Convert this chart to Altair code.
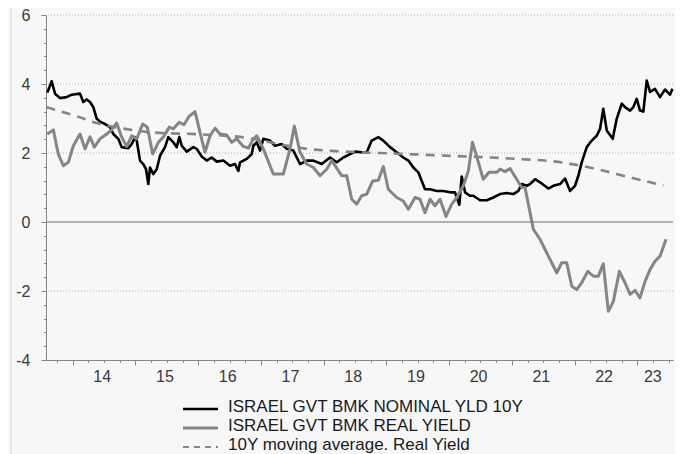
import altair as alt
import numpy as np
import pandas as pd

# ---- data (fractional years, percent) ----
nom_t = [2013.595, 2013.665, 2013.718, 2013.798, 2013.904, 2013.984, 2014.116, 2014.169, 2014.223, 2014.276,
         2014.328, 2014.383, 2014.435, 2014.515, 2014.595, 2014.647, 2014.727, 2014.781, 2014.886, 2014.941,
         2014.993, 2015.020, 2015.073, 2015.125, 2015.168, 2015.205, 2015.232, 2015.285, 2015.339, 2015.392,
         2015.471, 2015.524, 2015.604, 2015.658, 2015.699, 2015.738, 2015.817, 2015.923, 2015.977, 2016.056,
         2016.136, 2016.216, 2016.296, 2016.401, 2016.508, 2016.587, 2016.640, 2016.667, 2016.774, 2016.854,
         2016.879, 2016.933, 2016.986, 2017.038, 2017.145, 2017.225, 2017.332, 2017.411, 2017.517, 2017.623,
         2017.730, 2017.836, 2017.969, 2018.102, 2018.209, 2018.314, 2018.421, 2018.500, 2018.607, 2018.687,
         2018.766, 2018.872, 2018.951, 2019.058, 2019.165, 2019.270, 2019.350, 2019.430, 2019.509, 2019.564,
         2019.616, 2019.696, 2019.803, 2019.908, 2020.015, 2020.094, 2020.163, 2020.201, 2020.254, 2020.333,
         2020.386, 2020.493, 2020.600, 2020.705, 2020.812, 2020.919, 2021.024, 2021.104, 2021.158, 2021.237,
         2021.290, 2021.370, 2021.449, 2021.582, 2021.661, 2021.768, 2021.848, 2021.928, 2022.007, 2022.060,
         2022.114, 2022.194, 2022.274, 2022.353, 2022.406, 2022.458, 2022.513, 2022.608, 2022.672, 2022.752,
         2022.804, 2022.884, 2022.937, 2022.991, 2023.043, 2023.096, 2023.150, 2023.203, 2023.282, 2023.362,
         2023.442, 2023.521, 2023.560]
nom_v = [3.75, 4.08, 3.72, 3.59, 3.62, 3.69, 3.72, 3.48, 3.55, 3.48,
         3.33, 2.99, 2.91, 2.84, 2.75, 2.55, 2.41, 2.17, 2.14, 2.26,
         2.46, 2.36, 1.78, 1.68, 1.53, 1.10, 1.58, 1.39, 1.53, 1.92,
         2.17, 2.46, 2.31, 2.17, 2.46, 2.21, 2.04, 2.17, 2.12, 1.90,
         1.78, 1.87, 1.75, 1.78, 1.63, 1.68, 1.48, 1.73, 1.83, 1.97,
         2.21, 2.31, 2.07, 2.41, 2.36, 2.21, 2.26, 2.12, 2.07, 1.68,
         1.78, 1.78, 1.68, 1.87, 1.73, 1.87, 1.97, 2.04, 2.02, 2.02,
         2.36, 2.46, 2.36, 2.17, 2.02, 1.87, 1.78, 1.58, 1.44, 1.19,
         0.95, 0.95, 0.90, 0.90, 0.86, 0.86, 0.50, 1.32, 0.86, 0.76,
         0.76, 0.63, 0.63, 0.71, 0.81, 0.84, 0.81, 0.90, 1.10, 1.05,
         1.10, 1.24, 1.15, 0.97, 1.05, 1.10, 1.26, 0.90, 1.05, 1.34,
         1.73, 2.17, 2.36, 2.50, 2.70, 3.28, 2.65, 2.41, 2.99, 3.43,
         3.33, 3.23, 3.33, 3.57, 3.23, 3.20, 4.10, 3.77, 3.86, 3.62,
         3.84, 3.69, 3.86]

real_t = [2013.595, 2013.691, 2013.770, 2013.850, 2013.930, 2014.010, 2014.116, 2014.196, 2014.276, 2014.344,
          2014.435, 2014.542, 2014.622, 2014.701, 2014.781, 2014.861, 2014.941, 2015.020, 2015.116, 2015.189,
          2015.275, 2015.365, 2015.444, 2015.540, 2015.604, 2015.699, 2015.774, 2015.859, 2015.950, 2016.029,
          2016.109, 2016.189, 2016.269, 2016.348, 2016.455, 2016.535, 2016.614, 2016.720, 2016.799, 2016.879,
          2016.933, 2017.038, 2017.198, 2017.357, 2017.464, 2017.533, 2017.623, 2017.730, 2017.836, 2017.942,
          2018.049, 2018.129, 2018.288, 2018.368, 2018.448, 2018.527, 2018.607, 2018.687, 2018.782, 2018.872,
          2018.951, 2019.031, 2019.165, 2019.270, 2019.350, 2019.457, 2019.536, 2019.616, 2019.696, 2019.775,
          2019.855, 2019.951, 2020.042, 2020.122, 2020.227, 2020.306, 2020.373, 2020.545, 2020.636, 2020.759,
          2020.812, 2020.892, 2020.971, 2021.158, 2021.210, 2021.343, 2021.449, 2021.582, 2021.716, 2021.795,
          2021.875, 2021.955, 2022.034, 2022.114, 2022.210, 2022.299, 2022.379, 2022.458, 2022.538, 2022.618,
          2022.714, 2022.804, 2022.884, 2022.964, 2023.043, 2023.123, 2023.203, 2023.282, 2023.362, 2023.458]
real_v = [2.55, 2.67, 1.97, 1.63, 1.73, 2.21, 2.55, 2.12, 2.47, 2.17,
          2.41, 2.55, 2.67, 2.87, 2.46, 2.19, 2.50, 2.41, 2.84, 2.75,
          1.97, 2.31, 2.46, 2.75, 2.70, 2.89, 2.82, 3.07, 3.20, 2.60,
          2.02, 2.50, 2.72, 2.55, 2.52, 2.31, 2.41, 2.19, 2.14, 2.41,
          2.50, 2.12, 1.39, 1.39, 2.12, 2.78, 2.02, 1.68, 1.58, 1.34,
          1.53, 1.78, 1.34, 1.34, 0.66, 0.52, 0.76, 0.81, 1.19, 1.21,
          1.61, 0.95, 0.71, 0.61, 0.37, 0.71, 0.66, 0.27, 0.66, 0.47,
          0.66, 0.16, 0.52, 0.71, 1.05, 1.48, 2.31, 1.24, 1.44, 1.44,
          1.53, 1.46, 1.55, 1.00, 1.00, -0.21, -0.50, -0.99, -1.47, -1.18,
          -1.18, -1.86, -1.96, -1.76, -1.43, -1.57, -1.57, -1.21, -2.59, -2.30,
          -1.43, -1.76, -2.10, -1.98, -2.20, -1.72, -1.38, -1.14, -0.99, -0.50]

ma_t = [2013.580, 2014.037, 2014.435, 2014.834, 2015.232, 2016.029, 2016.779, 2017.305, 2017.735,
        2018.261, 2019.170, 2020.127, 2020.971, 2021.821, 2022.363, 2022.889, 2023.416]
ma_v = [3.33, 3.08, 2.84, 2.70, 2.60, 2.54, 2.44, 2.25, 2.12,
        2.05, 1.98, 1.91, 1.84, 1.72, 1.53, 1.29, 1.06]

series_names = ["ISRAEL GVT BMK NOMINAL YLD 10Y",
                "ISRAEL GVT BMK REAL YIELD",
                "10Y moving average. Real Yield"]
grid_levels = [6, 4, 2, -2]
zero_level = [0]

# ---- layout ----
W, H = 627, 345
FONT = "Liberation Sans"
BG = "#f7f7f7"
GRAY = "#858585"

nom_df = pd.DataFrame({"t": nom_t, "v": nom_v})
real_df = pd.DataFrame({"t": real_t, "v": real_v})
ma_df = pd.DataFrame({"t": ma_t, "v": ma_v})
grid_df = pd.DataFrame({"v": grid_levels})
zero_df = pd.DataFrame({"v": zero_level})

x_scale = alt.Scale(domain=[2013.574, 2023.569], nice=False, zero=False)
y_scale = alt.Scale(domain=[-4, 6], nice=False, zero=False)

x_ticks = [2013.75 + 0.25 * i for i in range(40)]
y_ticks = [round(-4 + 0.4 * i, 1) for i in range(26)]

x_axis = alt.Axis(
    values=x_ticks, title=None, grid=False,
    labelExpr="datum.value % 1 == 0 ? substring(toString(datum.value), 2, 4) : ''",
    tickSize={"condition": {"test": "datum.value % 1 == 0", "value": 5}, "value": 2.5},
    labelOffset={"condition": {"test": "datum.value == 2023", "value": 15}, "value": 29},
    labelPadding=3, labelFontSize=16, labelFont=FONT, labelColor="#3a3a3a",
    domainColor=GRAY, tickColor=GRAY, labelFlush=False, labelOverlap=False,
)
y_axis = alt.Axis(
    values=y_ticks, title=None, grid=False,
    labelExpr="abs(datum.value % 2) < 0.001 ? toString(datum.value) : ''",
    tickSize={"condition": {"test": "abs(datum.value % 2) < 0.001", "value": 5}, "value": 2.5},
    labelPadding=11, labelFontSize=16, labelFont=FONT, labelColor="#3a3a3a",
    domainColor=GRAY, tickColor=GRAY, labelOverlap=False, labelBaseline="middle",
)

X = alt.X("t:Q", scale=x_scale, axis=x_axis)
Y = alt.Y("v:Q", scale=y_scale, axis=y_axis)

grid = alt.Chart(grid_df).mark_rule(
    color="#b5b5b5", strokeWidth=1, strokeDash=[1, 2]
).encode(y=Y)

zero = alt.Chart(zero_df).mark_rule(
    color="#9a9a9a", strokeWidth=1.6
).encode(y=Y)

nom_line = alt.Chart(nom_df).mark_line(color="#000000", strokeWidth=2.6, strokeJoin="round").encode(
    x=X, y=Y, order="t:Q")
real_line = alt.Chart(real_df).mark_line(color=GRAY, strokeWidth=3, strokeJoin="round").encode(
    x=X, y=Y, order="t:Q")
ma_line = alt.Chart(ma_df).mark_line(color=GRAY, strokeWidth=2.6, strokeDash=[9, 7], interpolate="monotone").encode(
    x=X, y=Y, order="t:Q")

# thin frame line at the left edge of the picture
frame = alt.Chart(zero_df).mark_rule(color="#d4d4d4", strokeWidth=1).encode(
    x=alt.value(-35), y=alt.value(-7), y2=alt.value(H + 94))

# ---- legend (below the plot) ----
LX0, LX1, LTX = 137, 172, 182
rows = [392, 411, 430]
legend_layers = []
styles = [dict(color="#000000", strokeWidth=2.6),
          dict(color=GRAY, strokeWidth=3),
          dict(color=GRAY, strokeWidth=2, strokeDash=[6, 5])]
for name, ry, st in zip(series_names, rows, styles):
    ldf = pd.DataFrame({"label": [name]})
    legend_layers.append(
        alt.Chart(ldf).mark_rule(**st).encode(
            x=alt.value(LX0), x2=alt.value(LX1), y=alt.value(ry + 2))
    )
    legend_layers.append(
        alt.Chart(ldf).mark_text(align="left", baseline="middle", fontSize=17, font=FONT, color="#1a1a1a").encode(
            x=alt.value(LTX), y=alt.value(ry), text="label:N")
    )

chart = alt.layer(grid, zero, nom_line, real_line, ma_line, frame, *legend_layers).properties(
    width=W, height=H,
    autosize=alt.AutoSizeParams(type="none"),
    padding={"left": 38, "top": 7, "right": 2, "bottom": 94},
    background=BG,
).configure_view(stroke=None)

chart.save("out.html", embed_options={"renderer": "svg", "actions": False})
